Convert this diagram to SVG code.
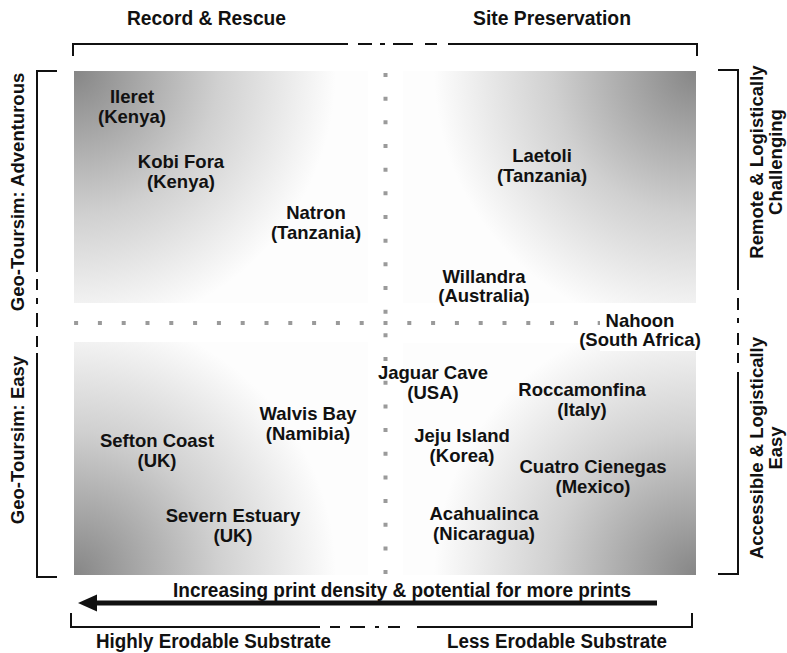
<svg xmlns="http://www.w3.org/2000/svg" width="787" height="653" viewBox="0 0 787 653">
<style>
.t{font-family:"Liberation Sans",Arial,Helvetica,sans-serif;font-weight:bold;fill:#111;}
.lab{font-size:18.5px;text-anchor:middle;}
.side{font-size:18.5px;text-anchor:middle;}
.nar{font-size:21px;text-anchor:start;}
.nb{font-size:19.5px;text-anchor:start;}
.br{fill:none;stroke:#111;stroke-width:2;}
.dot{fill:none;stroke:#9a9a9a;stroke-width:4;}
.q{fill:#fdfdfd;}
.c{fill:url(#shade);}
</style>
<defs>
<radialGradient id="shade" cx="0.5" cy="0.5" r="0.5">
<stop offset="0" stop-color="#868686"/>
<stop offset="0.55" stop-color="#d0d0d0"/>
<stop offset="1" stop-color="#fdfdfd"/>
</radialGradient>
<clipPath id="cTL"><rect x="74" y="71" width="294" height="232"/></clipPath>
<clipPath id="cTR"><rect x="403" y="71" width="293" height="232"/></clipPath>
<clipPath id="cBL"><rect x="74" y="342" width="294" height="233"/></clipPath>
<clipPath id="cBR"><rect x="403" y="343" width="293" height="232"/></clipPath>
</defs>
<rect width="787" height="653" fill="#fff"/>
<g id="quadrants">
<rect class="q" x="74" y="71" width="294" height="232"/>
<circle class="c" cx="74" cy="71" r="262" clip-path="url(#cTL)"/>
<rect class="q" x="403" y="71" width="293" height="232"/>
<circle class="c" cx="696" cy="71" r="262" clip-path="url(#cTR)"/>
<rect class="q" x="74" y="342" width="294" height="233"/>
<circle class="c" cx="74" cy="575" r="262" clip-path="url(#cBL)"/>
<rect class="q" x="403" y="343" width="293" height="232"/>
<circle class="c" cx="696" cy="575" r="262" clip-path="url(#cBR)"/>
</g>
<g id="grid">
<line class="dot" x1="74.1" y1="323" x2="697" y2="323" stroke-dasharray="4 19.8"/>
<line class="dot" x1="385.5" y1="73" x2="385.5" y2="575" stroke-dasharray="4 19.67"/>
</g>
<g id="connectors">
<path class="br" d="M73,56 V44 H348 M358,44 H372 M380,44 H385 M393,44 H413 M425,44 H437 M448,44 H697 V56"/>
<path class="br" d="M71,613 V627 H320 M330,627 H340 M350,627 H365 M375,627 H379 M388,627 H400 M417,627 H692 V613"/>
<path class="br" d="M57,71 H37 V272 M37,279 V290 M37,298 V304 M37,313 V327 M37,336 V347 M37,353 V577 H57"/>
<path class="br" d="M718,70 H738 V290 M738,298 V310 M738,318 V323 M738,333 V345 M738,353 V363 M738,372 V574 H718"/>
<g id="arrow">
<line x1="657" y1="603" x2="94" y2="603" stroke="#111" stroke-width="5"/>
<polygon points="78,603 97,594.5 97,611.5" fill="#111"/>
</g>
</g>
<g id="axis-labels">
<text class="t nar" x="127" y="25" textLength="159" lengthAdjust="spacingAndGlyphs">Record &amp; Rescue</text>
<text class="t nar" x="473" y="25" textLength="158" lengthAdjust="spacingAndGlyphs">Site Preservation</text>
<text class="t nar" x="173" y="597" textLength="458" lengthAdjust="spacingAndGlyphs">Increasing print density &amp; potential for more prints</text>
<text class="t nb" x="96" y="648" textLength="235" lengthAdjust="spacingAndGlyphs">Highly Erodable Substrate</text>
<text class="t nb" x="447" y="648" textLength="220" lengthAdjust="spacingAndGlyphs">Less Erodable Substrate</text>
<text class="t side" transform="translate(23.5,192) rotate(-90)">Geo-Toursim: Adventurous</text>
<text class="t side" transform="translate(23.5,440) rotate(-90)">Geo-Toursim: Easy</text>
<text class="t side" transform="translate(763,162) rotate(-90)">Remote &amp; Logistically</text>
<text class="t side" transform="translate(782,162) rotate(-90)">Challenging</text>
<text class="t side" transform="translate(763,448) rotate(-90)">Accessible &amp; Logistically</text>
<text class="t side" transform="translate(782,448) rotate(-90)">Easy</text>
</g>
<g id="ileret"><text class="t lab" x="132" y="103">Ileret</text><text class="t lab" x="132" y="123">(Kenya)</text></g>
<g id="kobi-fora"><text class="t lab" x="181" y="168">Kobi Fora</text><text class="t lab" x="181" y="188">(Kenya)</text></g>
<g id="natron"><text class="t lab" x="316" y="219">Natron</text><text class="t lab" x="316" y="239">(Tanzania)</text></g>
<g id="laetoli"><text class="t lab" x="542" y="162">Laetoli</text><text class="t lab" x="542" y="182">(Tanzania)</text></g>
<g id="willandra"><text class="t lab" x="484" y="283">Willandra</text><text class="t lab" x="484" y="302">(Australia)</text></g>
<g id="nahoon"><rect x="600" y="313" width="101" height="38" fill="#fff"/><text class="t lab" x="640" y="327">Nahoon</text><text class="t lab" x="640" y="346">(South Africa)</text></g>
<g id="jaguar-cave"><text class="t lab" x="433" y="379">Jaguar Cave</text><text class="t lab" x="433" y="399">(USA)</text></g>
<g id="roccamonfina"><text class="t lab" x="582" y="396">Roccamonfina</text><text class="t lab" x="582" y="416">(Italy)</text></g>
<g id="walvis-bay"><text class="t lab" x="308" y="420">Walvis Bay</text><text class="t lab" x="308" y="440">(Namibia)</text></g>
<g id="sefton-coast"><text class="t lab" x="157" y="447">Sefton Coast</text><text class="t lab" x="157" y="467">(UK)</text></g>
<g id="jeju-island"><text class="t lab" x="462" y="442">Jeju Island</text><text class="t lab" x="462" y="462">(Korea)</text></g>
<g id="cuatro-cienegas"><text class="t lab" x="593" y="473">Cuatro Cienegas</text><text class="t lab" x="593" y="493">(Mexico)</text></g>
<g id="severn-estuary"><text class="t lab" x="233" y="522">Severn Estuary</text><text class="t lab" x="233" y="542">(UK)</text></g>
<g id="acahualinca"><text class="t lab" x="484" y="520">Acahualinca</text><text class="t lab" x="484" y="540">(Nicaragua)</text></g>
</svg>
